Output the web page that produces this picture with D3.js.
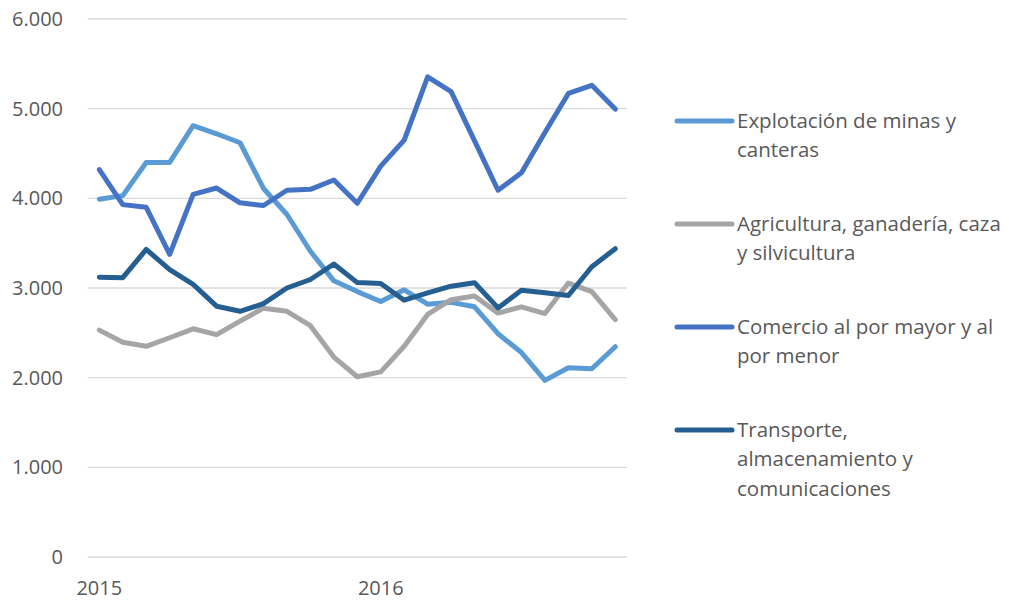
<!DOCTYPE html>
<html>
<head>
<meta charset="utf-8">
<script src="https://cdn.jsdelivr.net/npm/d3@7"></script>
<style>
    body { margin: 0; background: #ffffff; }
    text { font-family: "Open Sans", sans-serif; fill: #595959; }
</style>
</head>
<body>
<svg id="chart" width="1009" height="601"></svg>
<script>

// months Jan 2015 .. Nov 2016
const months = d3.range(23);
const yearLabels = [{ i: 0, label: "2015" }, { i: 12, label: "2016" }];
const yTicks = [0, 1000, 2000, 3000, 4000, 5000, 6000];

const seriesNames = [
    ["Explotación de minas y", "canteras"],
    ["Agricultura, ganadería, caza", "y silvicultura"],
    ["Comercio al por mayor y al", "por menor"],
    ["Transporte,", "almacenamiento y", "comunicaciones"]
];
const seriesColors = ["#5B9BD5", "#A5A5A5", "#4472C4", "#255E91"];

const mineria = [3990, 4030, 4400, 4400, 4810, 4720, 4620, 4110, 3820, 3410, 3080, 2960,
    2850, 2980, 2820, 2840, 2790, 2490, 2280, 1970, 2110, 2100, 2345];
const agricultura = [2530, 2395, 2350, 2445, 2545, 2480, 2630, 2775, 2740, 2580, 2230, 2010,
    2065, 2350, 2705, 2870, 2910, 2720, 2790, 2715, 3055, 2960, 2648];
const comercio = [4320, 3930, 3900, 3375, 4045, 4115, 3950, 3920, 4090, 4100, 4205, 3945,
    4360, 4650, 5355, 5190, 4640, 4090, 4285, 4735, 5170, 5260, 4995];
const transporte = [3120, 3115, 3430, 3205, 3040, 2797, 2740, 2825, 3000, 3095, 3268, 3060,
    3050, 2864, 2946, 3020, 3058, 2778, 2975, 2946, 2916, 3237, 3438];

const seriesValues = [mineria, agricultura, comercio, transporte];

const svg = d3.select("#chart");

// plot area (category axis, points between tick marks)
const x = d3.scalePoint()
    .domain(months)
    .range([87.6, 627])
    .padding(0.5);

const y = d3.scaleLinear()
    .domain([0, 6000])
    .range([557, 19]);

// gridlines
svg.append("g")
    .selectAll("line")
    .data(yTicks)
    .enter()
    .append("line")
    .attr("x1", 87.6)
    .attr("x2", 627)
    .attr("y1", d => y(d))
    .attr("y2", d => y(d))
    .attr("stroke", "#d9d9d9")
    .attr("stroke-width", 1.3);

// y labels
svg.append("g")
    .selectAll("text")
    .data(yTicks)
    .enter()
    .append("text")
    .attr("x", 63)
    .attr("y", d => y(d))
    .attr("dy", "0.35em")
    .attr("text-anchor", "end")
    .attr("font-size", "20px")
    .text(d => d3.format(",")(d).replace(/,/g, "."));

// x labels
svg.append("g")
    .selectAll("text")
    .data(yearLabels)
    .enter()
    .append("text")
    .attr("x", d => x(d.i))
    .attr("y", 595)
    .attr("text-anchor", "middle")
    .attr("font-size", "20px")
    .text(d => d.label);

// lines
const line = d3.line()
    .x((d, i) => x(months[i]))
    .y(d => y(d));

svg.append("g")
    .selectAll("path")
    .data(seriesValues)
    .enter()
    .append("path")
    .attr("d", d => line(d))
    .attr("fill", "none")
    .attr("stroke", (d, i) => seriesColors[i])
    .attr("stroke-width", 5)
    .attr("stroke-linejoin", "round")
    .attr("stroke-linecap", "round");

// legend
const legend = svg.append("g")
    .selectAll("g")
    .data(seriesNames)
    .enter()
    .append("g")
    .attr("transform", (d, i) => "translate(677," + (121 + i * 103) + ")");

legend.append("line")
    .attr("x1", 0)
    .attr("x2", 55)
    .attr("stroke", (d, i) => seriesColors[i])
    .attr("stroke-width", 5)
    .attr("stroke-linecap", "round");

legend.append("text")
    .attr("x", 60)
    .attr("y", 7)
    .attr("font-size", "20.5px")
    .selectAll("tspan")
    .data(d => d)
    .enter()
    .append("tspan")
    .attr("x", 60)
    .attr("dy", (d, i) => i === 0 ? 0 : 29.3)
    .text(d => d);

</script>
</body>
</html>
